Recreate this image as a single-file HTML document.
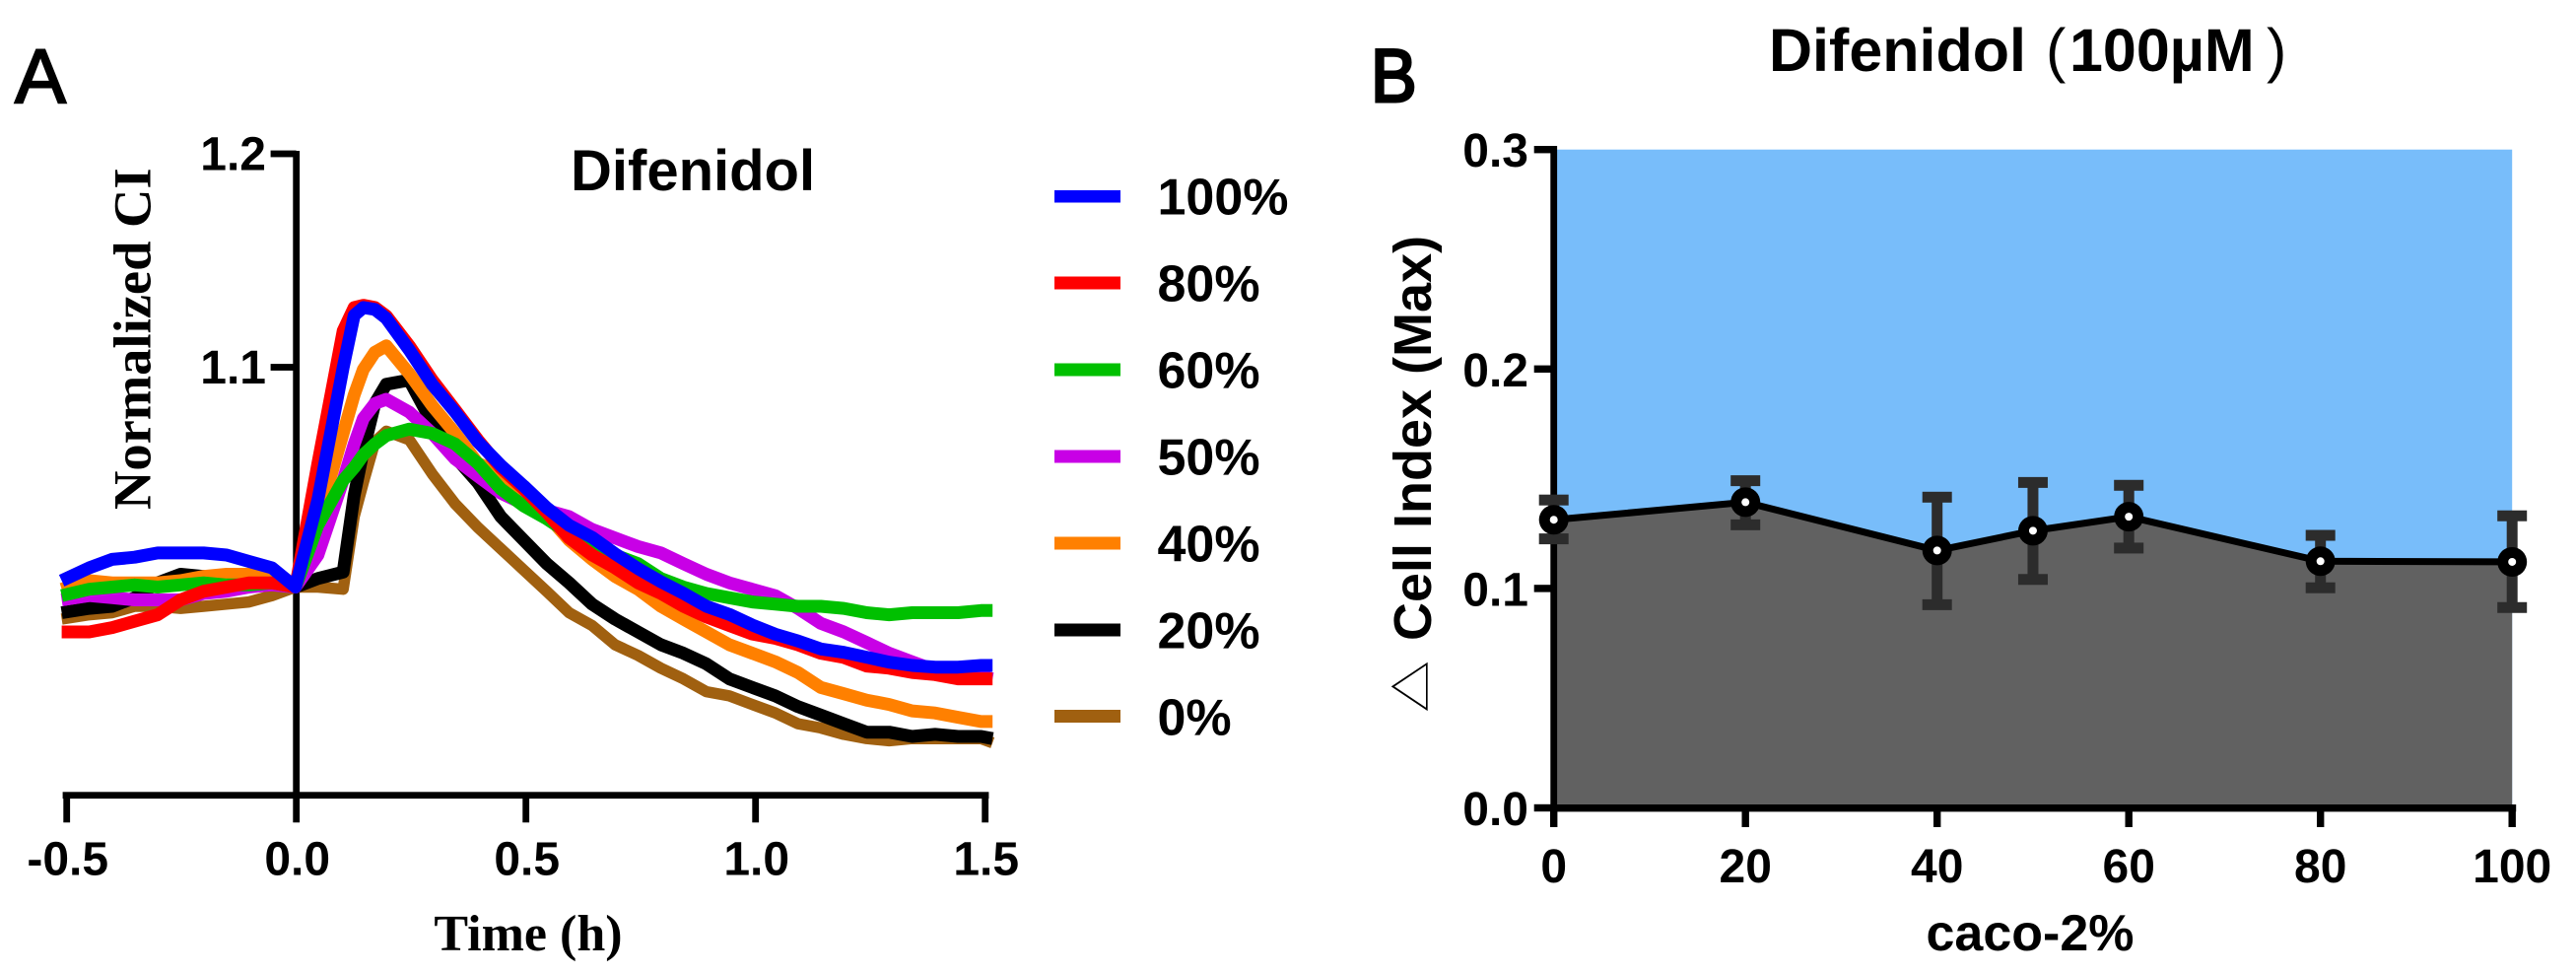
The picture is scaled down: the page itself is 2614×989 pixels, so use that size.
<!DOCTYPE html>
<html lang="en">
<head>
<meta charset="utf-8">
<title>Difenidol charts</title>
<style>
html,body{margin:0;padding:0;background:#fff;}
svg{display:block;}
text{fill:#000;font-family:"Liberation Sans",sans-serif;}
.b{font-weight:bold;}
.serif{font-family:"Liberation Serif",serif;font-weight:bold;}
</style>
</head>
<body>
<svg id="fig" xmlns="http://www.w3.org/2000/svg" width="2614" height="989" viewBox="0 0 2614 989">
  <rect x="0" y="0" width="2614" height="989" fill="#fff"/>

  <text font-size="78" stroke="#000" stroke-width="2" x="15" y="104">A</text>
  <text font-size="76" stroke="#000" stroke-width="3" transform="translate(1391,103) scale(0.92,1)">B</text>

  <g id="panelA"></g>
  <text class="b" font-size="58" x="579" y="193">Difenidol</text>
  <text class="serif" font-size="54.5" text-anchor="middle" transform="translate(152.5,343.7) rotate(-90)">Normalized CI</text>
  <text class="serif" font-size="52" text-anchor="middle" x="536" y="964">Time (h)</text>

  <g>
    <g><rect x="1070" y="193" width="67" height="12.5" fill="#0000ff"/><text class="b" font-size="52" x="1174.5" y="217.5">100%</text></g>
    <g><rect x="1070" y="280.5" width="67" height="13" fill="#ff0000"/><text class="b" font-size="52" x="1174.5" y="305.5">80%</text></g>
    <g><rect x="1070" y="368.5" width="67" height="13" fill="#00c000"/><text class="b" font-size="52" x="1174.5" y="393.5">60%</text></g>
    <g><rect x="1070" y="456.5" width="67" height="13" fill="#c800e6"/><text class="b" font-size="52" x="1174.5" y="481.5">50%</text></g>
    <g><rect x="1070" y="544.5" width="67" height="13" fill="#ff8000"/><text class="b" font-size="52" x="1174.5" y="569.5">40%</text></g>
    <g><rect x="1070" y="632.5" width="67" height="13" fill="#000000"/><text class="b" font-size="52" x="1174.5" y="657.5">20%</text></g>
    <g><rect x="1070" y="720" width="67" height="13" fill="#a06010"/><text class="b" font-size="52" x="1174.5" y="745.5">0%</text></g>
  </g>

  <g id="panelB"></g>
  <text class="b" font-size="61" y="72"><tspan x="1795">Difenidol</tspan><tspan x="2076" font-weight="normal">(</tspan><tspan x="2100">100µM</tspan><tspan x="2300" font-weight="normal">)</tspan></text>
  <text class="b" font-size="54" text-anchor="start" transform="translate(1452,650) rotate(-90)">Cell Index (Max)</text>
  <text font-size="56" text-anchor="middle" style="font-family:'Liberation Sans','Noto Sans CJK SC',sans-serif" transform="translate(1449,696.5) rotate(-90) scale(0.94,0.8)">△</text>
  <text class="b" font-size="52" text-anchor="middle" x="2060" y="964">caco-2%</text>
</svg>

<script>
/* ---------- Panel A data ---------- */
var timeHours = [-0.511,-0.451,-0.401,-0.352,-0.302,-0.252,-0.202,-0.152,-0.103,-0.053,-0.002,
  0.047,0.102,0.126,0.146,0.171,0.196,0.246,0.296,0.346,0.395,0.445,0.495,0.545,0.594,0.644,0.694,
  0.744,0.794,0.843,0.893,0.943,0.993,1.043,1.092,1.142,1.192,1.242,1.291,1.341,1.391,1.441,1.491,1.516];
var series0 = [0.982,0.984,0.985,0.988,0.988,0.987,0.988,0.989,0.990,0.993,0.997,
  0.997,0.996,1.030,1.046,1.065,1.070,1.066,1.050,1.036,1.025,1.015,1.005,0.995,0.985,0.979,0.970,
  0.965,0.959,0.954,0.948,0.946,0.942,0.938,0.933,0.931,0.928,0.926,0.925,0.926,0.926,0.926,0.926,0.924];
var series20 = [0.985,0.987,0.988,0.992,0.999,1.003,1.002,1.001,1.001,1.000,0.997,
  1.001,1.004,1.040,1.061,1.083,1.092,1.094,1.074,1.058,1.046,1.030,1.019,1.008,0.999,0.989,0.982,
  0.976,0.970,0.966,0.961,0.954,0.950,0.946,0.941,0.937,0.933,0.929,0.929,0.927,0.928,0.927,0.927,0.926];
var series40 = [0.996,1.000,0.999,0.999,0.999,1.000,1.002,1.003,1.003,1.001,0.997,
  1.028,1.069,1.087,1.099,1.107,1.110,1.097,1.082,1.069,1.055,1.050,1.041,1.031,1.019,1.010,1.002,
  0.996,0.988,0.982,0.976,0.970,0.966,0.962,0.957,0.950,0.947,0.944,0.942,0.939,0.938,0.936,0.934,0.934];
var series50 = [0.991,0.993,0.992,0.991,0.991,0.991,0.994,0.995,0.997,0.998,0.997,
  1.012,1.047,1.064,1.076,1.083,1.085,1.079,1.069,1.057,1.049,1.041,1.036,1.033,1.030,1.024,1.020,
  1.016,1.013,1.008,1.003,0.999,0.996,0.993,0.987,0.980,0.976,0.971,0.966,0.962,0.958,0.956,0.955,0.954];
var series60 = [0.993,0.996,0.997,0.998,0.997,0.998,0.999,0.998,0.998,0.999,0.997,
  1.026,1.047,1.053,1.059,1.064,1.068,1.071,1.069,1.064,1.055,1.043,1.035,1.029,1.022,1.017,1.012,
  1.008,1.001,0.997,0.994,0.992,0.990,0.989,0.988,0.988,0.987,0.985,0.984,0.985,0.985,0.985,0.986,0.986];
var series80 = [0.976,0.976,0.978,0.981,0.984,0.991,0.995,0.997,0.999,0.999,0.997,
  1.055,1.117,1.128,1.129,1.128,1.124,1.110,1.094,1.080,1.066,1.053,1.043,1.032,1.020,1.012,1.006,
  0.999,0.994,0.988,0.983,0.979,0.975,0.973,0.970,0.966,0.964,0.960,0.959,0.957,0.956,0.954,0.954,0.954];
var series100 = [1.000,1.006,1.010,1.011,1.013,1.013,1.013,1.012,1.009,1.006,0.997,
  1.0379,1.0998,1.1243,1.1280,1.1271,1.1229,1.1081,1.0919,1.0790,1.0651,1.0541,1.0444,1.0342,1.0259,1.0203,1.0126,
  1.0057,0.9995,0.9941,0.9880,0.9842,0.9792,0.9749,0.9718,0.9680,0.9664,0.9641,0.9618,0.9603,0.9595,0.9595,0.9603,0.9603];
var xTicksA = [-0.5,0.0,0.5,1.0,1.5];
var xTickLabelsA = ["-0.5","0.0","0.5","1.0","1.5"];
var yTicksA = [1.1,1.2];
var yTickLabelsA = ["1.1","1.2"];

/* ---------- Panel B data ---------- */
var cacoPercent = [0,20,40,50,60,80,100];
var cellIndexMean = [0.1313,0.1393,0.1173,0.1263,0.1327,0.1124,0.1121];
var cellIndexUpper = [0.1403,0.1491,0.1416,0.1483,0.1470,0.1242,0.1331];
var cellIndexLower = [0.1226,0.1290,0.0926,0.1041,0.1184,0.1003,0.0913];
var xTicksB = [0,20,40,60,80,100];
var yTicksB = [0.0,0.1,0.2,0.3];
var yTickLabelsB = ["0.0","0.1","0.2","0.3"];

var NS = "http://www.w3.org/2000/svg";
function mk(parent, tag, attrs) {
  var el = document.createElementNS(NS, tag);
  for (var k in attrs) el.setAttribute(k, attrs[k]);
  parent.appendChild(el);
  return el;
}

/* ---------- Panel A ---------- */
(function () {
  var g = document.getElementById("panelA");
  function xA(t) { return 300.7 + 466 * t; }
  function yA(v) { return 589 - (v - 1) * 2165; }
  var axisY = yA(0.9) + 1.2;
  var e;

  e = mk(g, "rect", {x: 63.6, y: axisY - 3.4, width: 939.8, height: 6.8, fill: "#000"});
  
  
  e = mk(g, "rect", {x: xA(0) - 3.4, y: 153, width: 6.8, height: axisY - 153, fill: "#000"});
  
  

  xTicksA.forEach(function (t, i) {
    var r = mk(g, "rect", {x: xA(t) - 3.4, y: axisY, width: 6.8, height: 834.3 - axisY, fill: "#000"});
    
    
    var l = mk(g, "text", {x: xA(t) + 1, y: 887.3, "text-anchor": "middle", "font-size": 48, "class": "b"});
    l.textContent = xTickLabelsA[i];
    
    
  });
  yTicksA.forEach(function (v, i) {
    var r = mk(g, "rect", {x: 274.6, y: yA(v) - 3.4, width: 26, height: 6.8, fill: "#000"});
    
    
    var l = mk(g, "text", {x: 270, y: yA(v) + 16.5, "text-anchor": "end", "font-size": 48, "class": "b"});
    l.textContent = yTickLabelsA[i];
    
    
  });

  function curve(values, color, width, name) {
    var d = values.map(function (v, i) {
      return (i ? "L" : "M") + xA(timeHours[i]).toFixed(1) + " " + yA(v).toFixed(1);
    }).join("");
    var p = mk(g, "path", {d: d, fill: "none", stroke: color, "stroke-width": width, "stroke-linejoin": "round", "stroke-linecap": "butt"});
    
    
  }
  curve(series0, "#a06010", 11.5, "line-0-percent");
  curve(series20, "#000000", 13, "line-20-percent");
  curve(series40, "#ff8000", 13, "line-40-percent");
  curve(series50, "#c800e6", 13, "line-50-percent");
  curve(series60, "#00c000", 13, "line-60-percent");
  curve(series80, "#ff0000", 13, "line-80-percent");
  curve(series100, "#0000ff", 13, "line-100-percent");
})();

/* ---------- Panel B ---------- */
(function () {
  var g = document.getElementById("panelB");
  function xB(v) { return 1576.7 + 9.725 * v; }
  function yB(v) { return 819.5 - 2226 * v; }
  var e;

  e = mk(g, "rect", {x: 1580, y: yB(0.3), width: xB(100) - 1580, height: yB(0) - yB(0.3), fill: "#78bdfa"});
  
  

  var fillD = "M" + xB(cacoPercent[0]) + " " + yB(0);
  cacoPercent.forEach(function (p, i) { fillD += "L" + xB(p) + " " + yB(cellIndexMean[i]); });
  fillD += "L" + xB(cacoPercent[cacoPercent.length - 1]) + " " + yB(0) + "Z";
  e = mk(g, "path", {d: fillD, fill: "#616161"});
  
  

  e = mk(g, "rect", {x: xB(0) - 3.4, y: yB(0.3) - 3.7, width: 6.8, height: yB(0) - yB(0.3) + 7.4, fill: "#000"});
  
  
  e = mk(g, "rect", {x: xB(0) - 3.4, y: 816, width: xB(100) - xB(0) + 7.4, height: 7.4, fill: "#000"});
  
  

  xTicksB.forEach(function (v) {
    var r = mk(g, "rect", {x: xB(v) - 3.7, y: 820, width: 7.4, height: 19, fill: "#000"});
    
    
    var l = mk(g, "text", {x: xB(v), y: 895, "text-anchor": "middle", "font-size": 48, "class": "b"});
    l.textContent = String(v);
    
    
  });
  yTicksB.forEach(function (v, i) {
    var r = mk(g, "rect", {x: 1556.7, y: yB(v) - 3.7, width: 20, height: 7.4, fill: "#000"});
    
    
    var l = mk(g, "text", {x: 1551, y: yB(v) + 17.5, "text-anchor": "end", "font-size": 48, "class": "b"});
    l.textContent = yTickLabelsB[i];
    
    
  });

  cacoPercent.forEach(function (p, i) {
    var cx = xB(p), up = yB(cellIndexUpper[i]), lo = yB(cellIndexLower[i]);
    var s = mk(g, "rect", {x: cx - 5.5, y: up, width: 11, height: lo - up, fill: "#2c2c2c"});
    
    
    var c1 = mk(g, "rect", {x: cx - 15, y: up - 5.5, width: 30, height: 11, fill: "#2c2c2c"});
    
    
    var c2 = mk(g, "rect", {x: cx - 15, y: lo - 5.5, width: 30, height: 11, fill: "#2c2c2c"});
    
    
  });

  var lineD = cacoPercent.map(function (p, i) {
    return (i ? "L" : "M") + xB(p) + " " + yB(cellIndexMean[i]);
  }).join("");
  e = mk(g, "path", {d: lineD, fill: "none", stroke: "#000", "stroke-width": 7});
  
  

  cacoPercent.forEach(function (p, i) {
    var m = mk(g, "circle", {cx: xB(p), cy: yB(cellIndexMean[i]), r: 15, fill: "#000"});
    
    
    var h = mk(g, "circle", {cx: xB(p), cy: yB(cellIndexMean[i]), r: 4, fill: "#fff"});
    
    
  });
})();
</script>
</body>
</html>
